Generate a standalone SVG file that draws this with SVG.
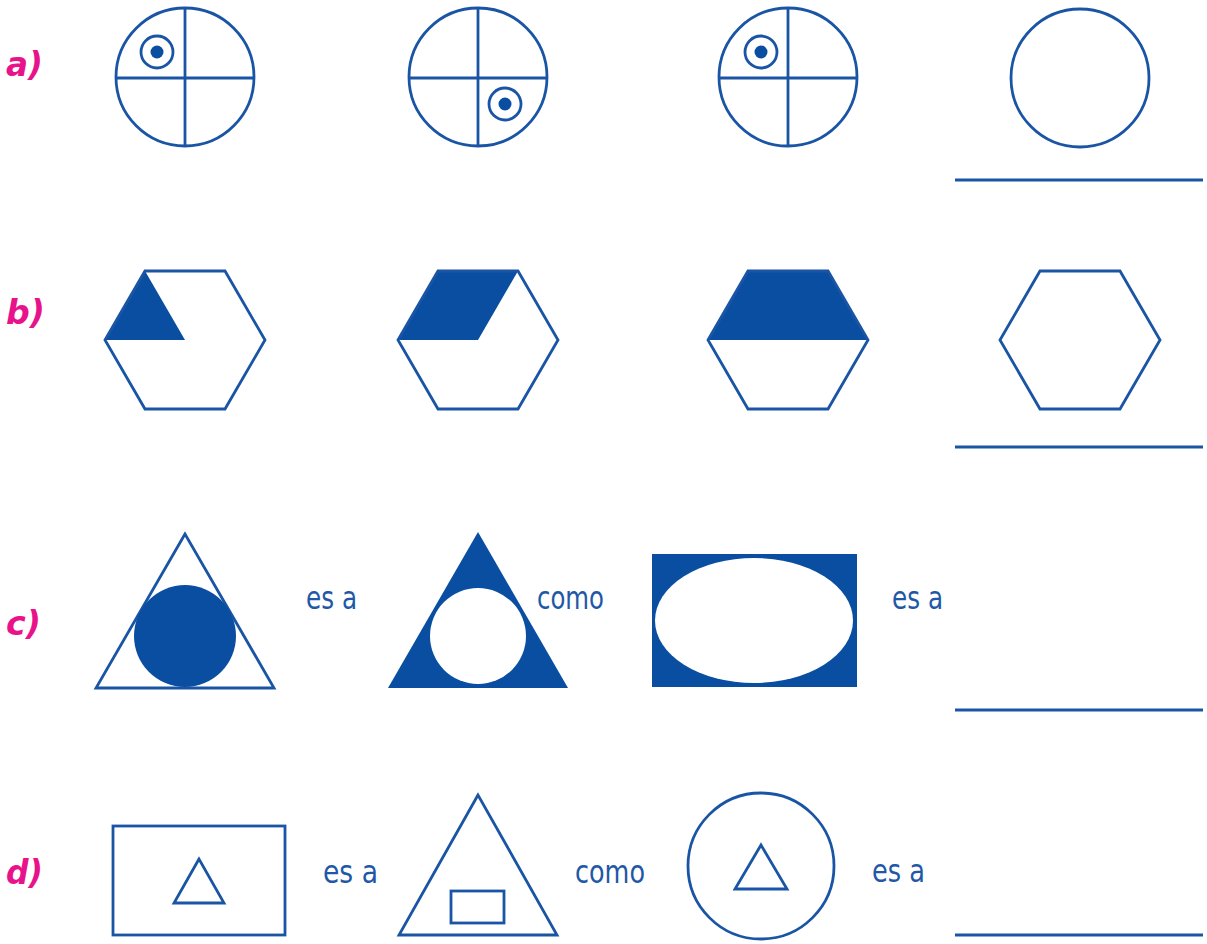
<svg xmlns="http://www.w3.org/2000/svg" width="1207" height="944" viewBox="0 0 1207 944">
<style>
.o{fill:none;stroke:#1a55a5;stroke-width:2.8;stroke-linejoin:miter}
.f{fill:#0a4ea2;stroke:none}
.w{fill:#ffffff;stroke:none}
.ln{stroke:#1a55a5;stroke-width:2.8}
.lab{font-family:"DejaVu Sans",Verdana,sans-serif;font-weight:bold;font-style:italic;font-size:33px;fill:#e8138a}
.t{font-family:"DejaVu Sans",Verdana,sans-serif;font-size:32px;fill:#1f58a6}
</style>
<rect width="1207" height="944" fill="#ffffff"/>
<g id="labels">
<text class="lab" x="6" y="76" textLength="37" lengthAdjust="spacingAndGlyphs">a)</text>
<text class="lab" x="6" y="324" textLength="39" lengthAdjust="spacingAndGlyphs">b)</text>
<text class="lab" x="6" y="635" textLength="35" lengthAdjust="spacingAndGlyphs">c)</text>
<text class="lab" x="6" y="884" textLength="37" lengthAdjust="spacingAndGlyphs">d)</text>
</g>
<g id="row-a">
<g id="a1">
<circle class="o" cx="185" cy="77" r="69"/>
<line class="ln" x1="185" y1="8" x2="185" y2="146"/>
<line class="ln" x1="116" y1="78" x2="254" y2="78"/>
<circle class="o" cx="157" cy="52" r="16"/>
<circle class="f" cx="157" cy="52" r="6.5"/>
</g>
<g id="a2">
<circle class="o" cx="478" cy="77" r="69"/>
<line class="ln" x1="478" y1="8" x2="478" y2="146"/>
<line class="ln" x1="409" y1="78" x2="547" y2="78"/>
<circle class="o" cx="505" cy="104" r="16"/>
<circle class="f" cx="505" cy="104" r="6.5"/>
</g>
<g id="a3">
<circle class="o" cx="788" cy="77" r="69"/>
<line class="ln" x1="788" y1="8" x2="788" y2="146"/>
<line class="ln" x1="719" y1="78" x2="857" y2="78"/>
<circle class="o" cx="761" cy="52" r="16"/>
<circle class="f" cx="761" cy="52" r="6.5"/>
</g>
<g id="a4">
<circle class="o" cx="1080" cy="78" r="69"/>
</g>
<line id="a-answer" class="ln" x1="955" y1="180" x2="1203" y2="180"/>
</g>
<g id="row-b">
<g id="b1">
<polygon class="f" points="105,340 145,271 185,340"/>
<polygon class="o" points="105,340 145,271 225,271 265,340 225,409 145,409"/>
</g>
<g id="b2">
<polygon class="f" points="398,340 438,271 518,271 478,340"/>
<polygon class="o" points="398,340 438,271 518,271 558,340 518,409 438,409"/>
</g>
<g id="b3">
<polygon class="f" points="708,340 748,271 828,271 868,340"/>
<polygon class="o" points="708,340 748,271 828,271 868,340 828,409 748,409"/>
</g>
<g id="b4">
<polygon class="o" points="1000,340 1040,271 1120,271 1160,340 1120,409 1040,409"/>
</g>
<line id="b-answer" class="ln" x1="955" y1="447" x2="1203" y2="447"/>
</g>
<g id="row-c">
<g id="c1">
<polygon class="o" points="185,534 96,688 274,688"/>
<circle class="f" cx="185" cy="636" r="51"/>
</g>
<text class="t" x="306" y="609" textLength="51" lengthAdjust="spacingAndGlyphs">es a</text>
<g id="c2">
<polygon class="f" points="478,532 388,688 568,688"/>
<circle class="w" cx="478" cy="636" r="48"/>
</g>
<text class="t" x="537" y="609" textLength="67" lengthAdjust="spacingAndGlyphs">como</text>
<g id="c3">
<rect class="f" x="652" y="554" width="205" height="133"/>
<ellipse class="w" cx="754" cy="620.5" rx="99" ry="62.5"/>
</g>
<text class="t" x="892" y="609" textLength="51" lengthAdjust="spacingAndGlyphs">es a</text>
<line id="c-answer" class="ln" x1="955" y1="710" x2="1203" y2="710"/>
</g>
<g id="row-d">
<g id="d1">
<rect class="o" x="113" y="826" width="172" height="109"/>
<polygon class="o" points="199,859 174,903 224,903"/>
</g>
<text class="t" x="323" y="883" textLength="55" lengthAdjust="spacingAndGlyphs">es a</text>
<g id="d2">
<polygon class="o" points="478,795 399,935 557,935"/>
<rect class="o" x="451" y="891" width="53" height="32"/>
</g>
<text class="t" x="575" y="883" textLength="70" lengthAdjust="spacingAndGlyphs">como</text>
<g id="d3">
<circle class="o" cx="761" cy="866" r="73"/>
<polygon class="o" points="761,845 735,889 787,889"/>
</g>
<text class="t" x="872" y="882" textLength="53" lengthAdjust="spacingAndGlyphs">es a</text>
<line id="d-answer" class="ln" x1="955" y1="935" x2="1203" y2="935"/>
</g>
</svg>
